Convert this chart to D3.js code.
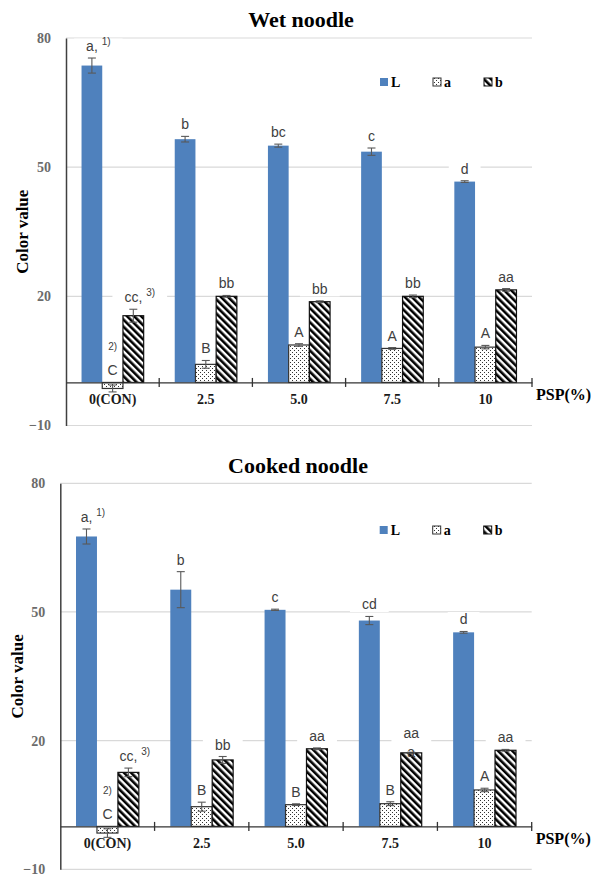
<!DOCTYPE html>
<html>
<head>
<meta charset="utf-8">
<script src="https://cdn.jsdelivr.net/npm/d3@7"></script>
<style>
  body { margin: 0; background: #fff; }
  svg { display: block; }
</style>
</head>
<body>
<svg id="chart" width="592" height="876"></svg>
<script>
// Shared category / series definitions
const categories = ["0(CON)", "2.5", "5.0", "7.5", "10"];
const seriesNames = ["L", "a", "b"];
const yTicks = [-10, 20, 50, 80];
const xAxisTitle = "PSP(%)";
const yAxisTitle = "Color value";

// Wet noodle: means, standard deviations and significance letters
const wetL = [73.6, 56.5, 55.0, 53.6, 46.65];
const wetLErr = [1.75, 0.65, 0.35, 0.85, 0.2];
const wetA = [-1.4, 4.2, 8.7, 7.9, 8.2];
const wetAErr = [0.8, 0.9, 0.3, 0.2, 0.4];
const wetB = [15.5, 20.0, 18.75, 20.0, 21.5];
const wetBErr = [1.5, 0.2, 0.2, 0.3, 0.3];
const wetLLabels = ["a, ^1)", "b", "bc", "c", "d"];
const wetALabels = ["^2)|C", "B", "A", "A", "A"];
const wetBLabels = ["cc, ^3)", "bb", "bb", "bb", "aa"];

// Cooked noodle
const cookedL = [67.6, 55.2, 50.5, 48.0, 45.25];
const cookedLErr = [1.75, 4.2, 0.15, 0.95, 0.2];
const cookedA = [-1.55, 4.6, 5.07, 5.3, 8.5];
const cookedAErr = [1.0, 1.05, 0.2, 0.45, 0.4];
const cookedB = [12.6, 15.5, 18.1, 17.15, 17.75];
const cookedBErr = [1.0, 0.8, 0.2, 0.15, 0.2];
const cookedLLabels = ["a, ^1)", "b", "c", "cd", "d"];
const cookedALabels = ["^2)|C", "B", "B", "B", "A"];
const cookedBLabels = ["cc, ^3)", "bb", "aa", "aa|a", "aa"];

const serif = "'Liberation Serif', 'Times New Roman', serif";
const sans = "'Liberation Sans', Arial, sans-serif";
const blue = "#4f81bd";

// vertical tweak (px) for one hand-placed label
const labelShift = { "Cooked noodle|b|3": 12 };

const svg = d3.select("#chart");
const defs = svg.append("defs");

// stippled fill for the a* series
const dots = defs.append("pattern").attr("id", "dots")
  .attr("patternUnits", "userSpaceOnUse").attr("width", 4).attr("height", 4);
dots.append("rect").attr("width", 4).attr("height", 4).attr("fill", "#fff");
dots.append("rect").attr("x", 0).attr("y", 0).attr("width", 1).attr("height", 1).attr("fill", "#333");
dots.append("rect").attr("x", 2).attr("y", 2).attr("width", 1).attr("height", 1).attr("fill", "#333");

// wide downward diagonal stripes for the b* series
const stripes = defs.append("pattern").attr("id", "stripes")
  .attr("patternUnits", "userSpaceOnUse").attr("width", 5).attr("height", 5)
  .attr("patternTransform", "rotate(-45)");
stripes.append("rect").attr("width", 5).attr("height", 5).attr("fill", "#fff");
stripes.append("rect").attr("width", 2.6).attr("height", 5).attr("fill", "#000");

const fills = { L: blue, a: "url(#dots)", b: "url(#stripes)" };
const strokes = { L: "none", a: "#333", b: "#111" };

function drawPanel(p) {
  const g = svg.append("g");
  const x = d3.scaleBand().domain(categories).range([p.left, p.right]);
  const inner = d3.scaleBand().domain(seriesNames).range([0, x.bandwidth()])
    .paddingInner(0).paddingOuter(0.75);
  const y = d3.scaleLinear().domain([-10, 80]).range([p.bottom, p.top]);

  const rows = [];
  seriesNames.forEach((s, si) => {
    categories.forEach((c, ci) => {
      rows.push({ s, c, ci, v: p.values[si][ci], e: p.errors[si][ci], label: p.labels[si][ci] });
    });
  });

  // title
  g.append("text").attr("x", p.titleX).attr("y", p.titleY)
    .attr("text-anchor", "middle").attr("font-family", serif)
    .attr("font-weight", "bold").attr("font-size", 22).attr("fill", "#000")
    .text(p.title);

  // gridlines
  g.append("g").selectAll("line").data(yTicks).join("line")
    .attr("x1", p.left).attr("x2", p.right)
    .attr("y1", d => y(d)).attr("y2", d => y(d))
    .attr("stroke", "#d9d9d9").attr("stroke-width", 1.2);

  const boxLayer = g.append("g");
  const barLayer = g.append("g");
  const errLayer = g.append("g");
  const axisLayer = g.append("g");
  const labelLayer = g.append("g");

  // bars
  barLayer.selectAll("rect").data(rows).join("rect")
    .attr("x", d => x(d.c) + inner(d.s))
    .attr("width", inner.bandwidth())
    .attr("y", d => y(Math.max(0, d.v)))
    .attr("height", d => Math.abs(y(d.v) - y(0)))
    .attr("fill", d => fills[d.s])
    .attr("stroke", d => strokes[d.s])
    .attr("stroke-width", d => d.s === "L" ? 0 : 1.2);

  // error bars
  const cap = 4;
  const eg = errLayer.selectAll("g").data(rows).join("g")
    .attr("stroke", "#595959").attr("stroke-width", 1.1);
  const cx = d => x(d.c) + inner(d.s) + inner.bandwidth() / 2;
  eg.append("line").attr("x1", cx).attr("x2", cx)
    .attr("y1", d => y(d.v - d.e)).attr("y2", d => y(d.v + d.e));
  eg.append("line").attr("x1", d => cx(d) - cap).attr("x2", d => cx(d) + cap)
    .attr("y1", d => y(d.v + d.e)).attr("y2", d => y(d.v + d.e));
  eg.append("line").attr("x1", d => cx(d) - cap).attr("x2", d => cx(d) + cap)
    .attr("y1", d => y(d.v - d.e)).attr("y2", d => y(d.v - d.e));

  // y axis
  const yAxis = d3.axisLeft(y).tickValues(yTicks).tickSize(0).tickSizeOuter(0).tickPadding(15);
  const ya = axisLayer.append("g").attr("transform", `translate(${p.left},0)`).call(yAxis);
  ya.select(".domain").attr("stroke", "#404040").attr("stroke-width", 1.5);
  ya.selectAll("text").attr("font-family", serif).attr("font-weight", "bold")
    .attr("font-size", 14).attr("fill", "#6b6b6b");

  // category axis at zero
  const y0 = y(0);
  const xAxis = d3.axisBottom(x).tickSize(0).tickSizeOuter(0).tickPadding(12);
  const xa = axisLayer.append("g").attr("transform", `translate(0,${y0})`).call(xAxis);
  xa.select(".domain").attr("stroke", "#333").attr("stroke-width", 1.3);
  xa.selectAll("text").attr("font-family", serif).attr("font-weight", "bold")
    .attr("font-size", 14).attr("fill", "#1a1a1a");
  axisLayer.append("g").selectAll("line").data(categories).join("line")
    .attr("x1", d => x(d) + x.bandwidth()).attr("x2", d => x(d) + x.bandwidth())
    .attr("y1", y0 - 4.5).attr("y2", y0 + 4.5)
    .attr("stroke", "#333").attr("stroke-width", 1.3);

  // axis titles
  g.append("text").attr("x", p.right + 4).attr("y", y0 + 12)
    .attr("dominant-baseline", "central").attr("font-family", serif)
    .attr("font-weight", "bold").attr("font-size", 16).attr("fill", "#000")
    .text(xAxisTitle);
  g.append("text").attr("transform", `translate(${p.yTitleX},${(p.top + p.bottom) / 2}) rotate(-90)`)
    .attr("text-anchor", "middle").attr("font-family", serif)
    .attr("font-weight", "bold").attr("font-size", 17).attr("fill", "#000")
    .text(yAxisTitle);

  // legend
  const legOffsets = [152, 99, 48];
  seriesNames.forEach((s, i) => {
    const lx = p.right - legOffsets[i];
    g.append("rect").attr("x", lx).attr("y", p.legendY - 4).attr("width", 8).attr("height", 8)
      .attr("fill", fills[s]).attr("stroke", strokes[s]).attr("stroke-width", s === "L" ? 0 : 1);
    g.append("text").attr("x", lx + 11).attr("y", p.legendY)
      .attr("dominant-baseline", "central").attr("font-family", serif)
      .attr("font-weight", "bold").attr("font-size", 14).attr("fill", "#000")
      .text(s);
  });

  // significance labels
  const lineGap = 19;
  rows.forEach(d => {
    const lines = d.label.split("|");
    let base = (d.v < 0 ? y0 : y(d.v + d.e)) - 12;
    base += labelShift[`${p.title}|${d.s}|${d.ci}`] || 0;
    const px = cx(d);
    const lg = labelLayer.append("g");
    lines.forEach((ln, li) => {
      const ly = base - (lines.length - 1 - li) * lineGap;
      const parts = ln.split("^");
      const t = lg.append("text").attr("y", ly).attr("dominant-baseline", "central")
        .attr("font-family", sans).attr("font-size", 14).attr("fill", "#404040");
      const main = t.append("tspan").text(parts[0]);
      let sup = null;
      if (parts.length > 1) {
        sup = t.append("tspan").attr("font-size", 10).attr("dy", -5).text(parts[1]);
      }
      if (parts[0].length) {
        const mw = main.node().getComputedTextLength();
        t.attr("x", px - mw / 2 + (parts[0].endsWith(" ") ? 2 : 0));
      } else {
        t.attr("x", px).attr("text-anchor", "middle");
      }
    });
    const bb = lg.node().getBBox();
    boxLayer.append("rect")
      .attr("x", bb.x - 12).attr("width", bb.width + 24)
      .attr("y", base - (lines.length - 1) * lineGap - 7.5)
      .attr("height", (lines.length - 1) * lineGap + 15)
      .attr("fill", "#fff");
  });
}

drawPanel({
  title: "Wet noodle", titleX: 301, titleY: 27,
  left: 66, right: 532, top: 38, bottom: 425.5,
  legendY: 82, yTitleX: 28,
  values: [wetL, wetA, wetB], errors: [wetLErr, wetAErr, wetBErr],
  labels: [wetLLabels, wetALabels, wetBLabels]
});

drawPanel({
  title: "Cooked noodle", titleX: 298, titleY: 473,
  left: 60.3, right: 531.7, top: 483.3, bottom: 869.3,
  legendY: 530, yTitleX: 23,
  values: [cookedL, cookedA, cookedB], errors: [cookedLErr, cookedAErr, cookedBErr],
  labels: [cookedLLabels, cookedALabels, cookedBLabels]
});
</script>
</body>
</html>
